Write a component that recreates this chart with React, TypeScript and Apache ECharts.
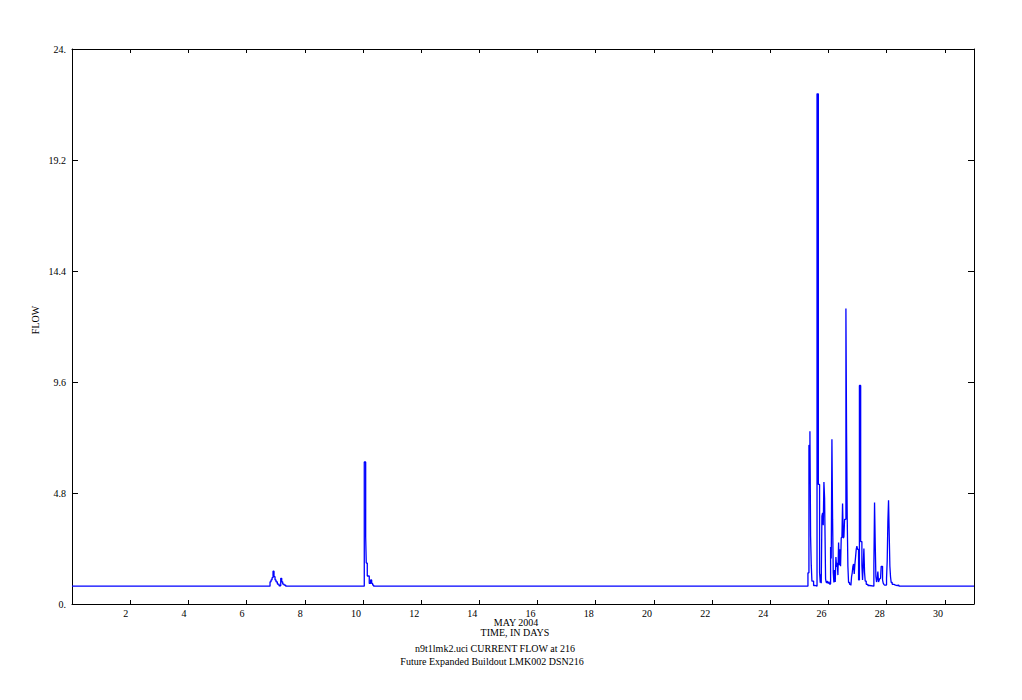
import React, { useEffect, useRef } from "react";
import * as echarts from "echarts";

// Time in days (May 2004) and flow values
const days: number[] = [
  0,
  6.806, 6.84, 6.875, 6.909, 6.943, 6.978, 7.012, 7.057, 7.115, 7.174, 7.208, 7.242, 7.287, 7.345,
  10.045, 10.093, 10.113, 10.148, 10.216, 10.264, 10.299, 10.333, 10.367,
  25.293, 25.327, 25.361, 25.384, 25.407, 25.43, 25.487, 25.544, 25.605, 25.65,
  25.693, 25.716, 25.728, 25.75, 25.773, 25.796, 25.819, 25.842, 25.865, 25.888,
  25.899, 25.922, 25.957, 25.979, 26.014, 26.037, 26.071, 26.094, 26.117, 26.14,
  26.163, 26.185, 26.208, 26.231, 26.254, 26.277, 26.3, 26.323, 26.346, 26.369,
  26.391, 26.414, 26.437, 26.46, 26.483, 26.506, 26.529, 26.552, 26.598, 26.62,
  26.643, 26.666, 26.689, 26.723, 26.769, 26.792, 26.815, 26.838, 26.861, 26.884,
  26.907, 26.93, 26.952, 26.975, 26.998, 27.033, 27.062, 27.105, 27.147, 27.17,
  27.193, 27.216, 27.239, 27.261, 27.296, 27.353, 27.41, 27.559, 27.582, 27.605,
  27.628, 27.651, 27.674, 27.696, 27.719, 27.742, 27.765, 27.788, 27.811, 27.857,
  27.88, 27.903, 27.925, 27.994, 28.017, 28.04, 28.063, 28.086, 28.109, 28.131,
  28.154, 28.189, 28.246, 28.303, 28.36, 28.418,
  31,
];

const flow: number[] = [
  0.77,
  0.96, 1.04, 1.14, 1.42, 1.18, 1.04, 0.96, 0.86, 0.79, 1.11, 0.96, 0.86, 0.82, 0.77,
  6.14, 2.9, 1.77, 1.21, 0.89, 1.04, 0.89, 0.82, 0.77,
  1.35, 6.86, 7.47, 2.93, 1.68, 0.99, 0.8, 0.77, 22.06, 5.17,
  1.35, 0.92, 1.28, 0.9, 3.8, 3.94, 3.41, 5.27, 4.58, 2.19,
  1.08, 0.93, 1.0, 0.9, 0.97, 0.86, 2.47, 1.97, 7.12, 3.67,
  1.35, 0.93, 1.47, 0.95, 2.03, 1.6, 1.78, 1.25, 2.66, 1.68,
  2.37, 1.63, 2.86, 2.88, 4.35, 2.85, 2.9, 3.66, 12.78, 7.41,
  3.71, 1.63, 0.93, 0.85, 0.8, 1.18, 1.35, 1.63, 1.73, 1.3,
  1.73, 2.04, 2.36, 2.5, 2.36, 1.04, 9.45, 2.7, 1.68, 1.04,
  1.68, 2.4, 1.35, 0.99, 0.85, 0.8, 0.77, 1.68, 4.39, 2.64,
  1.18, 0.95, 1.11, 1.4, 0.95, 1.04, 1.1, 1.11, 1.63, 1.04,
  0.9, 0.85, 0.82, 1.11, 1.87, 3.57, 4.49, 3.02, 1.63, 1.18,
  0.93, 0.85, 0.82, 0.8, 0.82, 0.77,
  0.77,
];

const xTickValues: number[] = [2, 4, 6, 8, 10, 12, 14, 16, 18, 20, 22, 24, 26, 28, 30];
const yTickLabels: string[] = ["0.", "4.8", "9.6", "14.4", "19.2", "24."];

const axisTitleLines: string[] = ["MAY 2004", "TIME, IN DAYS"];
const captionLines: string[] = [
  "n9t1lmk2.uci CURRENT FLOW at 216",
  "Future Expanded Buildout LMK002 DSN216",
];
const yAxisTitle = "FLOW";

const FONT = "'Liberation Serif', 'Times New Roman', serif";

export default function App() {
  const ref = useRef<HTMLDivElement>(null);

  useEffect(() => {
    if (!ref.current) return;
    const chart = echarts.init(ref.current, undefined, { renderer: "svg" });
    const data = days.map((d, i) => [d, flow[i]]);

    const yLabel = (v: number) => {
      const idx = Math.round(v / 4.8);
      return yTickLabels[idx] ?? "";
    };
    const xLabel = (v: number) => {
      const r = Math.round(v);
      return xTickValues.includes(r) ? String(r) : "";
    };

    const axisLine = { show: true, onZero: false, lineStyle: { color: "#000", width: 1 } };
    const tickX = { show: true, inside: true, length: 4, lineStyle: { color: "#000" } };
    const tickY = { show: true, inside: true, length: 6, lineStyle: { color: "#000" } };

    const textEl = (text: string, x: number, y: number, rotation = 0) => ({
      type: "text",
      x,
      y,
      rotation,
      style: {
        text,
        font: `10px ${FONT}`,
        fill: "#000",
        textAlign: "center",
        textVerticalAlign: "middle",
      },
    });

    chart.setOption({
      animation: false,
      backgroundColor: "#fff",
      grid: { left: 72, right: 48, top: 49, bottom: 96, containLabel: false },
      xAxis: [
        {
          type: "value",
          min: 0,
          max: 31,
          interval: 2,
          position: "bottom",
          axisLine,
          axisTick: tickX,
          splitLine: { show: false },
          axisLabel: {
            formatter: xLabel,
            fontFamily: FONT,
            fontSize: 10,
            color: "#000",
            margin: 4,
            align: "right",
            padding: [0, 2, 0, 0],
            showMaxLabel: false,
          },
        },
        {
          type: "value",
          min: 0,
          max: 31,
          interval: 2,
          position: "top",
          axisLine,
          axisTick: tickX,
          splitLine: { show: false },
          axisLabel: { show: false },
        },
      ],
      yAxis: [
        {
          type: "value",
          min: 0,
          max: 24,
          interval: 4.8,
          position: "left",
          axisLine,
          axisTick: tickY,
          splitLine: { show: false },
          axisLabel: {
            formatter: yLabel,
            fontFamily: FONT,
            fontSize: 10,
            color: "#000",
            margin: 6,
          },
        },
        {
          type: "value",
          min: 0,
          max: 24,
          interval: 4.8,
          position: "right",
          axisLine,
          axisTick: tickY,
          splitLine: { show: false },
          axisLabel: { show: false },
        },
      ],
      series: [
        {
          type: "line",
          xAxisIndex: 0,
          yAxisIndex: 0,
          step: "end",
          showSymbol: false,
          symbol: "none",
          lineStyle: { color: "#0000ff", width: 1.3 },
          data,
        },
      ],
      graphic: [
        textEl(axisTitleLines[0], 516, 622),
        textEl(axisTitleLines[1], 515, 632),
        textEl(captionLines[0], 495, 648),
        textEl(captionLines[1], 492, 661),
        textEl(yAxisTitle, 35, 320, Math.PI / 2),
      ],
    });

    return () => chart.dispose();
  }, []);

  return (
    <div
      ref={ref}
      style={{ position: "absolute", left: 0, top: 0, width: 1022, height: 700, background: "#fff" }}
    />
  );
}
